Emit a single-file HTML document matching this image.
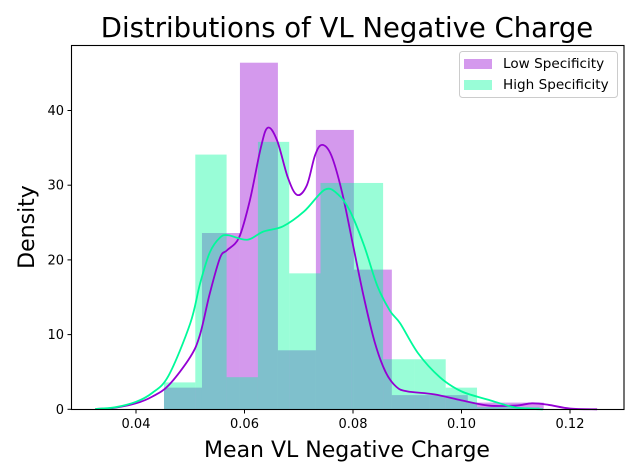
<!DOCTYPE html>
<html><head><meta charset="utf-8"><style>
html,body{margin:0;padding:0;background:#fff;}
svg{display:block;font-family:"DejaVu Sans","Liberation Sans",sans-serif;}
</style></head><body>
<svg id="chart" width="640" height="476" viewBox="0 0 640 476" xmlns="http://www.w3.org/2000/svg">
<rect width="640" height="476" fill="#fff"/>
<text x="347" y="37" font-size="27.5" text-anchor="middle" fill="#000">Distributions of VL Negative Charge</text>
<g id="bars"></g>
<g id="lines"></g>
<rect x="71.5" y="45.5" width="552.5" height="364" fill="none" stroke="#000" stroke-width="1.1"/>
<g id="xticks"></g>
<g id="yticks"></g>
<text x="347" y="457" font-size="22" text-anchor="middle">Mean VL Negative Charge</text>
<text transform="translate(34,227) rotate(-90)" font-size="22" text-anchor="middle">Density</text>
<g>
<rect x="459.5" y="51.5" width="158" height="46" rx="3" fill="#fff" fill-opacity="0.8" stroke="#ccc"/>
<rect x="464" y="59" width="28" height="10" fill="#9400D3" fill-opacity="0.4"/>
<text x="503" y="68" font-size="13.6">Low Specificity</text>
<rect x="464" y="80" width="28" height="10" fill="#00FA9A" fill-opacity="0.4"/>
<text x="503" y="89" font-size="13.6">High Specificity</text>
</g>
</svg>
<script>
const lowBinStart = 0.04516, lowBinWidth = 0.0070;
const lowHeights = [2.9, 23.6, 46.4, 7.9, 37.4, 18.7, 1.9, 1.9, 0.9, 0.9];
const highBinStart = 0.04516, highBinWidth = 0.00577;
const highHeights = [3.6, 34.1, 4.3, 35.8, 18.2, 30.3, 30.3, 6.7, 6.7, 2.9, 0.3, 0.3];
const lowKdeX = [0.0325,0.036,0.04,0.043,0.046,0.05,0.0518,0.0536,0.0555,0.0568,0.059,0.061,0.063,0.0643,0.066,0.068,0.0697,0.0715,0.073,0.0743,0.076,0.078,0.08,0.082,0.084,0.086,0.088,0.09,0.095,0.1,0.105,0.11,0.113,0.116,0.12,0.125];
const lowKdeY = [0.05,0.2,0.8,1.7,3.2,7,10,15.5,20.3,21.3,23,28,35,37.7,36,31,28.7,30,34,35.4,34,29,22,15,9,5,3,2.4,2,1.2,0.5,0.5,0.8,0.6,0.1,0];
const highKdeX = [0.0325,0.036,0.04,0.043,0.046,0.05,0.0518,0.0536,0.0555,0.057,0.0605,0.0635,0.0671,0.071,0.0748,0.0772,0.0794,0.082,0.0845,0.0868,0.0887,0.092,0.096,0.1,0.1053,0.1095,0.112,0.115];
const highKdeY = [0.05,0.25,1.0,2.2,4.5,11.5,16.8,21,23,23.3,22.7,23.8,24.5,26.5,29.4,28.8,26.6,22,16.5,13.2,11.5,7.5,4.3,2.4,1.2,0.3,0.1,0];
const xTicks = [0.04,0.06,0.08,0.10,0.12];
const xTickLabels = ["0.04","0.06","0.08","0.10","0.12"];
const yTicks = [0,10,20,30,40];
const yTickLabels = ["0","10","20","30","40"];

const NS = "http://www.w3.org/2000/svg";
function xs(v){ return 136 + (v - 0.04) * 5425; }
function ys(v){ return 409.3 - v * 7.47; }
function mk(tag, attrs, parent){ const e = document.createElementNS(NS, tag); for (const k in attrs) e.setAttribute(k, attrs[k]); parent.appendChild(e); return e; }

const bars = document.getElementById('bars');
lowHeights.forEach((h, i) => {
  const x0 = xs(lowBinStart + i * lowBinWidth), x1 = xs(lowBinStart + (i + 1) * lowBinWidth);
  const r = mk('rect', {x: x0, y: ys(h), width: x1 - x0, height: ys(0) - ys(h), fill: '#9400D3', 'fill-opacity': 0.4}, bars);
  
  
});
highHeights.forEach((h, i) => {
  const x0 = xs(highBinStart + i * highBinWidth), x1 = xs(highBinStart + (i + 1) * highBinWidth);
  const r = mk('rect', {x: x0, y: ys(h), width: x1 - x0, height: ys(0) - ys(h), fill: '#00FA9A', 'fill-opacity': 0.4}, bars);
  
  
});

function smoothPath(X, Y){
  const p = X.map((x, i) => [xs(x), ys(Y[i])]);
  let d = 'M' + p[0][0] + ',' + p[0][1];
  for (let i = 0; i < p.length - 1; i++) {
    const p0 = p[Math.max(0, i - 1)], p1 = p[i], p2 = p[i + 1], p3 = p[Math.min(p.length - 1, i + 2)];
    const c1 = [p1[0] + (p2[0] - p0[0]) / 6, p1[1] + (p2[1] - p0[1]) / 6];
    const c2 = [p2[0] - (p3[0] - p1[0]) / 6, p2[1] - (p3[1] - p1[1]) / 6];
    d += ' C' + c1[0] + ',' + c1[1] + ' ' + c2[0] + ',' + c2[1] + ' ' + p2[0] + ',' + p2[1];
  }
  return d;
}
const lines = document.getElementById('lines');
const l1 = mk('path', {d: smoothPath(lowKdeX, lowKdeY), fill: 'none', stroke: '#9400D3', 'stroke-width': 1.8}, lines);


const l2 = mk('path', {d: smoothPath(highKdeX, highKdeY), fill: 'none', stroke: '#00FA9A', 'stroke-width': 1.8}, lines);



const xt = document.getElementById('xticks');
xTicks.forEach((v, i) => {
  const x = xs(v);
  mk('line', {x1: x, x2: x, y1: 409.5, y2: 413.5, stroke: '#000'}, xt);
  const t = mk('text', {x: x, y: 428, 'font-size': 13, 'text-anchor': 'middle'}, xt);
  t.textContent = xTickLabels[i];
  
  
});
const yt = document.getElementById('yticks');
yTicks.forEach((v, i) => {
  const y = ys(v);
  mk('line', {x1: 67.5, x2: 71.5, y1: y, y2: y, stroke: '#000'}, yt);
  const t = mk('text', {x: 64, y: y + 4.5, 'font-size': 13, 'text-anchor': 'end'}, yt);
  t.textContent = yTickLabels[i];
  
  
});
</script>
</body></html>
